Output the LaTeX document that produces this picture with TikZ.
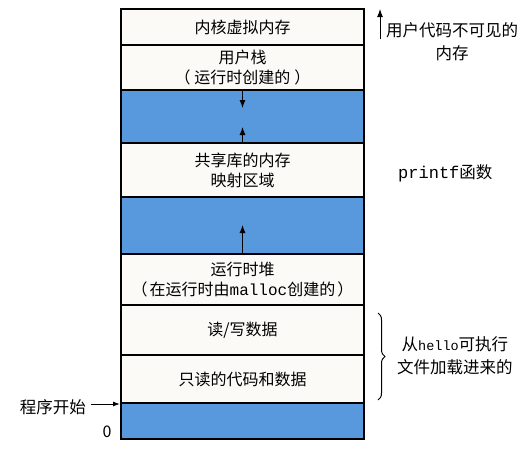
\documentclass[tikz,border=0pt]{standalone}
\usepackage{fontspec}
\setmainfont{Noto Sans CJK SC}
\setmonofont{Liberation Mono}
\usetikzlibrary{arrows.meta,decorations.pathreplacing}
\definecolor{memblue}{RGB}{88,152,220}
\definecolor{paper}{RGB}{252,250,247}
\begin{document}
\begin{tikzpicture}[x=1pt,y=-1pt,
  region/.style={draw=black,line width=1.1pt,rectangle,minimum width=243pt,inner sep=0pt,outer sep=0pt,align=center,font=\fontsize{16}{20}\selectfont,fill=paper},
  gap/.style={region,fill=memblue},
  lbl/.style={inner sep=0pt,align=center,font=\fontsize{16.5}{23}\selectfont},
  arr/.style={line width=1pt,-{Latex[length=8pt,width=6pt]}}
]
\useasboundingbox (0,0) rectangle (529,455);
\fill[white] (0,0) rectangle (529,455);
% regions
\node[region,minimum height=36pt] (kernel) at (242.5,27) {内核虚拟内存};
\node[region,minimum height=45pt] (stack) at (242.5,67.5) {用户栈\\（\hspace{4pt}运行时创建的\hspace{4pt}）};
\node[gap,minimum height=53pt] (gap1) at (242.5,116.5) {};
\node[region,minimum height=54pt] (shared) at (242.5,170) {共享库的内存\\映射区域};
\node[gap,minimum height=57pt] (gap2) at (242.5,225.5) {};
\node[region,minimum height=51pt] (heap) at (242.5,280) {运行时堆\\（\hspace{2pt}在运行时由{\fontsize{16}{19}\selectfont\ttfamily malloc}创建的\hspace{2pt}）};
\node[region,minimum height=50pt] (rw) at (242.5,330) {读/写数据};
\node[region,minimum height=48pt] (ro) at (242.5,379) {只读的代码和数据};
\node[gap,minimum height=36pt] (gap3) at (242.5,421) {};
% growth arrows
\coordinate (stacktip) at (242.5,108);
\coordinate (gaptip1) at (242.5,127);
\coordinate (heaptip) at (242.5,225);
\draw[arr] (gap1.north) -- (stacktip);
\draw[arr] (gap1.south) -- (gaptip1);
\draw[arr] (gap2.south) -- (heaptip);
% right annotations
\coordinate (kbot) at (380,39);
\coordinate (ktop) at (380,9);
\draw[arr] (kbot) -- (ktop);
\node[lbl,anchor=north west] (invis) at (386,22) {用户代码不可见的\\内存};
\node[lbl,anchor=west] (printf) at (398,173) {{\fontsize{17}{20}\selectfont\ttfamily printf}函数};
\coordinate (btop) at (378,313);
\coordinate (bbot) at (378,400);
\draw[line width=1pt,decorate,decoration={brace,amplitude=7pt}] (btop) -- (bbot);
\node[lbl,anchor=west] (hello) at (397,356) {从{\fontsize{13.5}{20}\selectfont\ttfamily hello}可执行\\文件加载进来的};
% left annotations
\node[lbl,anchor=east] (start) at (86,407) {程序开始};
\coordinate (startend) at (120,404);
\draw[line width=1pt,-{Latex[length=7pt,width=5pt]}] (start.east) ++(5,-3) -- (startend);
\node[lbl,anchor=center,font=\fontsize{16}{18}\selectfont] (zero) at (107,432) {0};
\end{tikzpicture}
\end{document}
